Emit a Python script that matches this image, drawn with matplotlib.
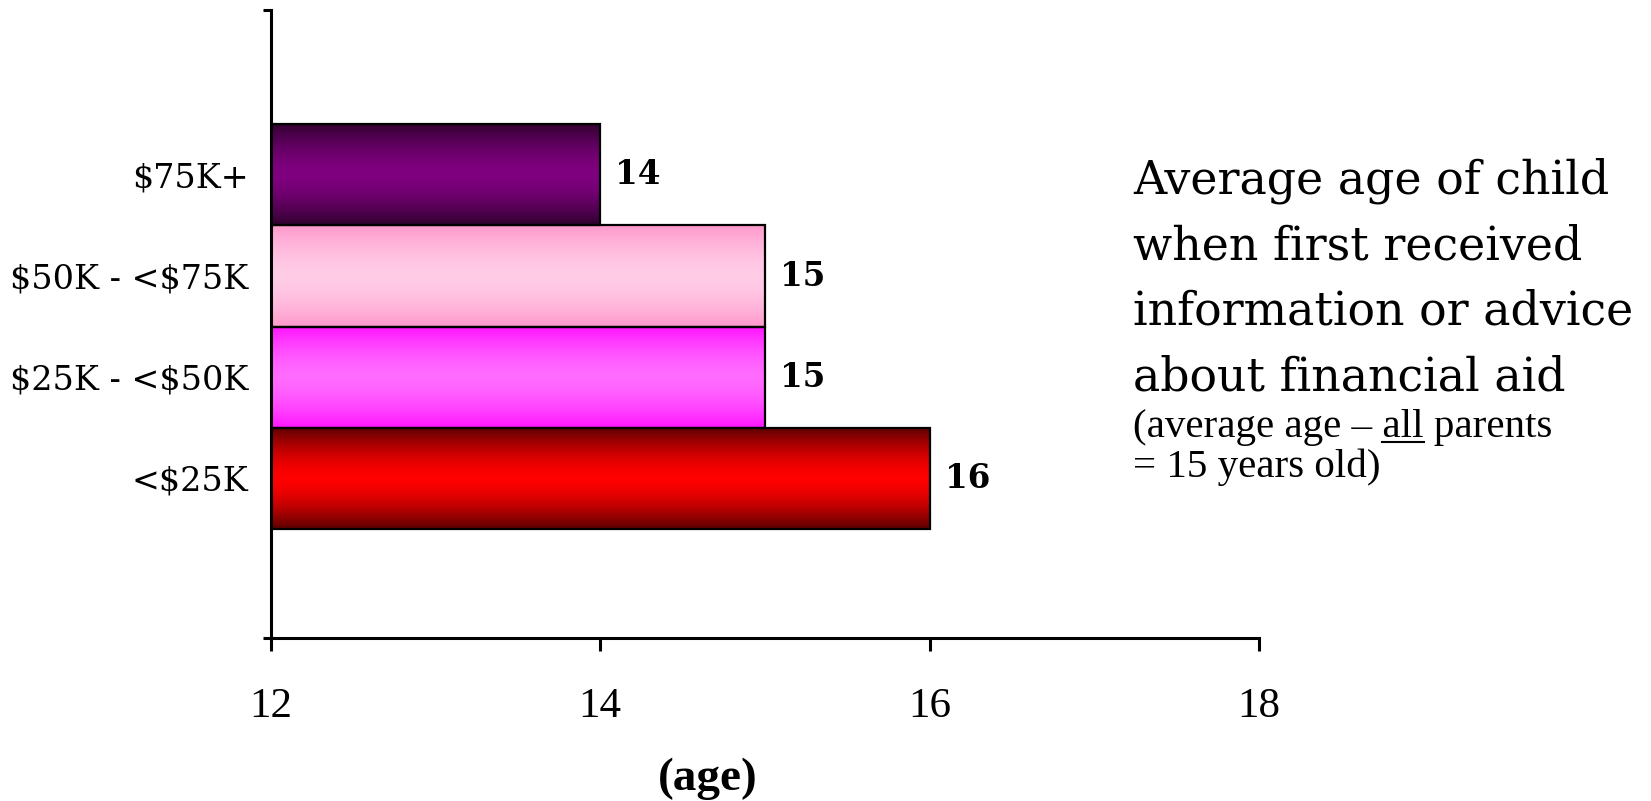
import numpy as np
import matplotlib
matplotlib.use("Agg")
import matplotlib.pyplot as plt
from matplotlib.colors import to_rgb
from matplotlib.lines import Line2D

plt.rcParams["text.parse_math"] = False

# Income groups (bottom to top) and average age of first financial-aid advice
categories = ["<$25K", "$25K - <$50K", "$50K - <$75K", "$75K+"]
ages = [16, 15, 15, 14]
value_labels = ["16", "15", "15", "14"]
x_ticks = [12, 14, 16, 18]

# Bar gradients: colour at the top/bottom edge and colour in the middle
edge_colors = ["#5a0000", "#ff14ff", "#ff99cc", "#30002e"]
center_colors = ["#ff0000", "#ff6bff", "#ffcce6", "#800080"]

title_lines = ["Average age of child", "when first received",
               "information or advice", "about financial aid"]

SERIF = "Liberation Serif"
SERIF2 = "DejaVu Serif"
W, H, DPI = 1651, 801, 100
fig = plt.figure(figsize=(W / DPI, H / DPI), dpi=DPI)
fig.patch.set_facecolor("white")

ax_left, ax_right, ax_top, ax_bottom = 270.6, 1259.0, 10.5, 637.5
ax = fig.add_axes([ax_left / W, 1 - ax_bottom / H,
                   (ax_right - ax_left) / W, (ax_bottom - ax_top) / H])

x_min, x_max = x_ticks[0], x_ticks[-1]
y_pos = np.arange(len(categories))
ax.set_xlim(x_min, x_max)
ax.set_ylim(-1.573, 4.625)

# Gradient fills, one image per bar
n = 256
t = np.abs(np.linspace(-1, 1, n))
w = t ** 1.6
for yp, val, ec, cc in zip(y_pos, ages, edge_colors, center_colors):
    e = np.array(to_rgb(ec))
    c = np.array(to_rgb(cc))
    img = c[None, :] + (e - c)[None, :] * w[:, None]
    ax.imshow(img[:, None, :], extent=(x_min, val, yp - 0.5, yp + 0.5),
              aspect="auto", interpolation="bilinear", zorder=1)

ax.barh(y_pos, np.array(ages) - x_min, left=x_min, height=1.0,
        facecolor="none", edgecolor="black", linewidth=1.6, zorder=2)

for yp, val, lab in zip(y_pos, ages, value_labels):
    ax.annotate(lab, xy=(val, yp), xytext=(11, 0), textcoords="offset points",
                ha="left", va="center", fontsize=23.5, fontweight="bold",
                family=SERIF2, zorder=3)

# Axes styling
for s in ("top", "right"):
    ax.spines[s].set_visible(False)
for s in ("left", "bottom"):
    ax.spines[s].set_linewidth(2.2)

ax.set_xticks(x_ticks)
ax.set_xticklabels([str(v) for v in x_ticks], family=SERIF, fontsize=31)
ax.tick_params(axis="x", direction="out", length=9, width=2.2, pad=27)

ax.set_yticks(y_pos)
ax.set_yticklabels(categories, family=SERIF2, fontsize=24)
ax.set_yticks(list(ax.get_ylim()), minor=True)
ax.tick_params(axis="y", which="major", length=0, pad=16)
ax.tick_params(axis="y", which="minor", direction="out", length=5.5, width=2.2)

fig.text(707.6 / W, 1 - 779 / H, "(age)", ha="center", va="center",
         fontsize=34, fontweight="bold", family=SERIF)

# Title block to the right of the plot
tx = 1133 / W
for line, base in zip(title_lines, [193, 259, 324.5, 390]):
    fig.text(tx, 1 - base / H, line, ha="left", va="baseline",
             fontsize=33, family=SERIF2)

sub_size = 29.5
sub1_base = 437
sub1 = "(average age \u2013 all parents"
fig.text(tx, 1 - sub1_base / H, sub1, ha="left", va="baseline",
         fontsize=sub_size, family=SERIF)
fig.text(tx, 1 - 477 / H, "= 15 years old)", ha="left", va="baseline",
         fontsize=sub_size, family=SERIF)

# Underline the word "all"
renderer = fig.canvas.get_renderer()
def text_width(s):
    tmp = fig.text(0, 0, s, fontsize=sub_size, family=SERIF)
    wpx = tmp.get_window_extent(renderer).width
    tmp.remove()
    return wpx

end_px = tx * W + text_width("(average age \u2013 all")
start_px = end_px - text_width("all")
uy = 1 - (sub1_base + 5) / H
fig.add_artist(Line2D([start_px / W, end_px / W], [uy, uy],
                      transform=fig.transFigure, color="black", linewidth=1.5))

fig.savefig("out.png", dpi=DPI)
